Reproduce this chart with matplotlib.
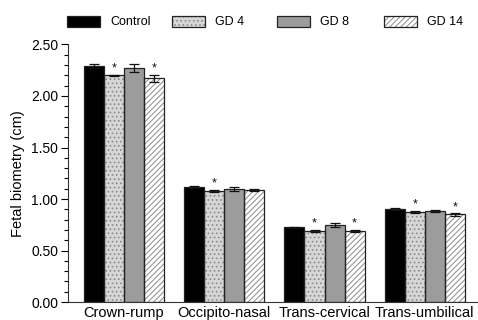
import matplotlib
matplotlib.use("Agg")
import matplotlib.pyplot as plt
import numpy as np
from matplotlib.ticker import MultipleLocator, FormatStrFormatter

plt.rcParams['font.family'] = ['Liberation Sans', 'DejaVu Sans']
plt.rcParams['hatch.linewidth'] = 0.7

categories = ["Crown-rump", "Occipito-nasal", "Trans-cervical", "Trans-umbilical"]
series = ["Control", "GD 4", "GD 8", "GD 14"]
control = [2.29, 1.12, 0.725, 0.90]
gd4 = [2.20, 1.08, 0.69, 0.87]
gd8 = [2.27, 1.10, 0.745, 0.88]
gd14 = [2.17, 1.09, 0.69, 0.85]
control_err = [0.02, 0.01, 0.005, 0.01]
gd4_err = [0.005, 0.01, 0.01, 0.01]
gd8_err = [0.04, 0.02, 0.02, 0.01]
gd14_err = [0.03, 0.01, 0.01, 0.01]
# significance markers (1 = star)
gd4_sig = [1, 1, 1, 1]
gd14_sig = [1, 0, 1, 1]

values = [control, gd4, gd8, gd14]
errors = [control_err, gd4_err, gd8_err, gd14_err]
sigs = [[0, 0, 0, 0], gd4_sig, [0, 0, 0, 0], gd14_sig]

styles = [
    dict(facecolor="black", hatch=None, hcolor="black"),
    dict(facecolor="#d6d6d6", hatch="....", hcolor="#8a8a8a"),
    dict(facecolor="#9c9c9c", hatch=None, hcolor="#9c9c9c"),
    dict(facecolor="white", hatch="//////", hcolor="#8a8a8a"),
]

fig = plt.figure(figsize=(4.78, 3.2), dpi=100)
ax = fig.add_axes([0.142, 0.056, 0.858, 0.805])

x = np.arange(len(categories))
w = 0.2
handles = []
for i, (vals, errs, st) in enumerate(zip(values, errors, styles)):
    pos = x + (i - 1.5) * w
    b1 = ax.bar(pos, vals, w, facecolor=st["facecolor"], hatch=st["hatch"],
                edgecolor=st["hcolor"], linewidth=0, zorder=2)
    b2 = ax.bar(pos, vals, w, facecolor="none", edgecolor="#222222",
                linewidth=0.9, zorder=3)
    ax.errorbar(pos, vals, yerr=errs, fmt="none", ecolor="#111111",
                elinewidth=0.9, capsize=3.5, capthick=0.9, zorder=4)
    for p, v, e, s in zip(pos, vals, errs, sigs[i]):
        if s:
            ax.text(p, v + e + 0.005, "*", ha="center", va="bottom",
                    fontsize=9, color="#111111", zorder=5)
    handles.append((b1.patches[0], b2.patches[0]))

ax.set_xlim(-0.559, 3.53)
ax.set_ylim(0, 2.5)
ax.set_xticks(x)
ax.set_xticklabels(categories, fontsize=10.5)
ax.tick_params(axis="x", length=0, pad=3)
ax.yaxis.set_major_locator(MultipleLocator(0.5))
ax.yaxis.set_minor_locator(MultipleLocator(0.1))
ax.yaxis.set_major_formatter(FormatStrFormatter("%.2f"))
ax.tick_params(axis="y", which="major", length=5, width=0.8, labelsize=10, pad=2)
ax.tick_params(axis="y", which="minor", length=3, width=0.8)
ax.spines["top"].set_visible(False)
ax.spines["right"].set_visible(False)
ax.spines["left"].set_color("#333333")
ax.spines["bottom"].set_color("#333333")
ax.set_ylabel("Fetal biometry (cm)", fontsize=10.5, labelpad=4)

leg_x = [67, 172, 277, 384]
for h, lbl, lx in zip(handles, series, leg_x):
    lg = fig.legend([h], [lbl], loc="center left",
                    bbox_to_anchor=(lx / 478, 1 - 22 / 320),
                    frameon=False, fontsize=9, handlelength=2.64,
                    handleheight=0.96, handletextpad=0.8,
                    borderpad=0, borderaxespad=0)

fig.savefig("out.png", dpi=100)
